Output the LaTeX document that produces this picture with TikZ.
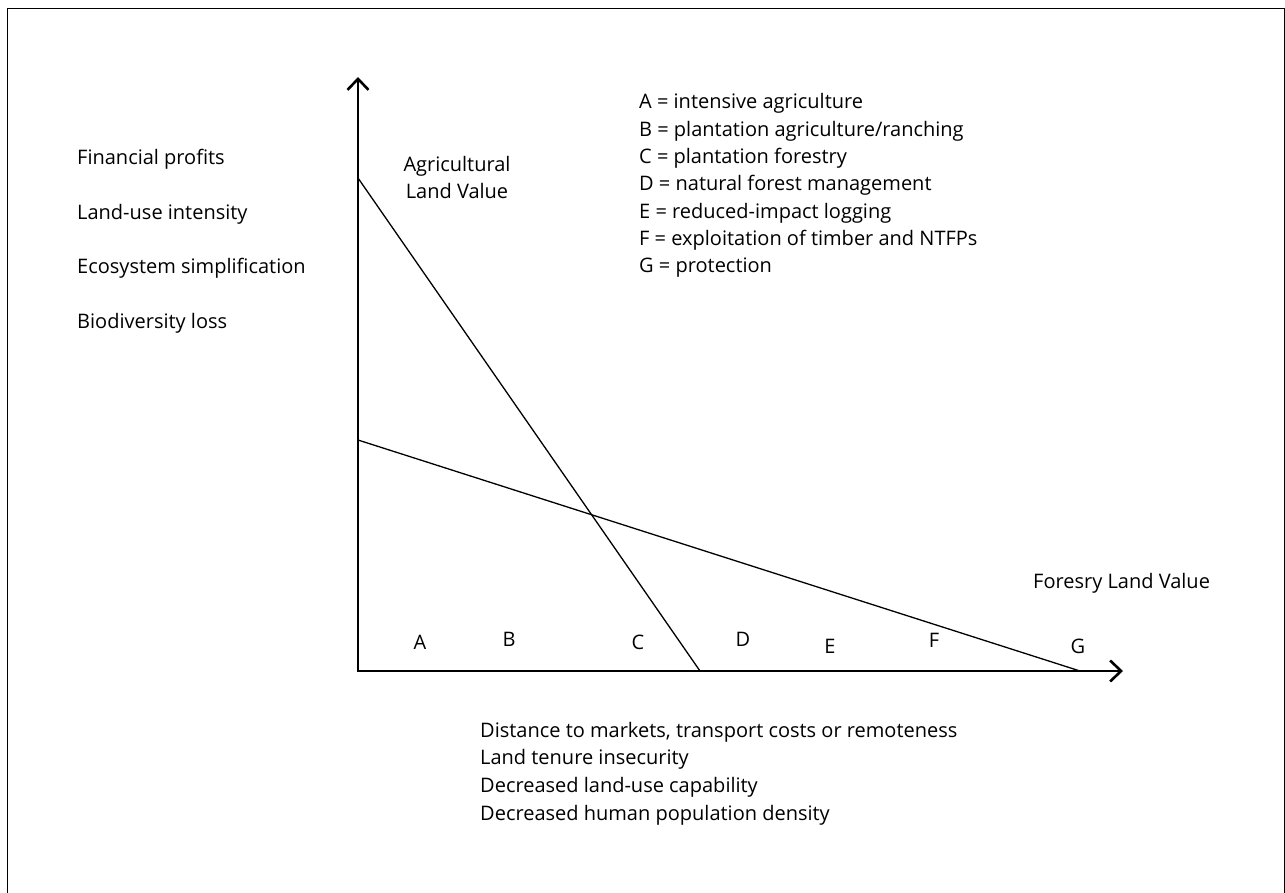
\documentclass[tikz,border=0pt]{standalone}
\usepackage{fontspec}
\setmainfont{Open Sans}
\usetikzlibrary{arrows.meta}
\begin{document}
\begin{tikzpicture}[x=1pt,y=-1pt,
  txt/.style={font=\fontsize{20}{24}\selectfont, inner sep=0pt, anchor=base west},
  ctxt/.style={font=\fontsize{20}{24}\selectfont, inner sep=0pt, anchor=base},
  axisline/.style={line width=2.6pt, line join=miter, {Straight Barb[length=11pt,width=21pt]}-{Straight Barb[length=11pt,width=21pt]}},
  valline/.style={line width=1.3pt}]
\clip (0,0) rectangle (1285,893);
\useasboundingbox (0,0) rectangle (1285,893);
\draw[line width=1.6pt] (7.5,8.5) rectangle (1284.3,930);

% axes
\coordinate (O) at (358,671);
\coordinate (ytip) at (358,77);
\coordinate (xtip) at (1123,671);
\draw[axisline] (ytip) -- (O) -- (xtip);

% value lines
\coordinate (agrTop) at (358,178);
\coordinate (agrEnd) at (700,671);
\coordinate (forTop) at (358,440);
\coordinate (forEnd) at (1080,671);
\draw[valline] (agrTop) -- (agrEnd);
\draw[valline] (forTop) -- (forEnd);

% left labels
\node[txt] (fp) at (77,165) {Financial profits};
\node[txt] (lui) at (77,219.5) {Land-use intensity};
\node[txt] (es) at (77,274) {Ecosystem simplification};
\node[txt] (bl) at (77,328.5) {Biodiversity loss};

% curve labels
\node[ctxt] (agr1) at (457,172) {Agricultural};
\node[ctxt] (agr2) at (457,199) {Land Value};
\node[txt] (flv) at (1033,588) {Foresry Land Value};

% legend
\node[txt] (la) at (639,109) {A = intensive agriculture};
\node[txt] (lb) at (639,136.3) {B = plantation agriculture/ranching};
\node[txt] (lc) at (639,163.6) {C = plantation forestry};
\node[txt] (ld) at (639,190.9) {D = natural forest management};
\node[txt] (le) at (639,218.2) {E = reduced-impact logging};
\node[txt] (lf) at (639,245.5) {F = exploitation of timber and NTFPs};
\node[txt] (lg) at (639,272.8) {G = protection};

% zone letters
\node[ctxt] (zA) at (420,649) {A};
\node[ctxt] (zB) at (509,646) {B};
\node[ctxt] (zC) at (638,649) {C};
\node[ctxt] (zD) at (743,646) {D};
\node[ctxt] (zE) at (830,653) {E};
\node[ctxt] (zF) at (934,647) {F};
\node[ctxt] (zG) at (1078,653) {G};

% bottom labels
\node[txt] (b1) at (480,737) {Distance to markets, transport costs or remoteness};
\node[txt] (b2) at (480,764.7) {Land tenure insecurity};
\node[txt] (b3) at (480,792.4) {Decreased land-use capability};
\node[txt] (b4) at (480,820.1) {Decreased human population density};
\end{tikzpicture}
\end{document}
